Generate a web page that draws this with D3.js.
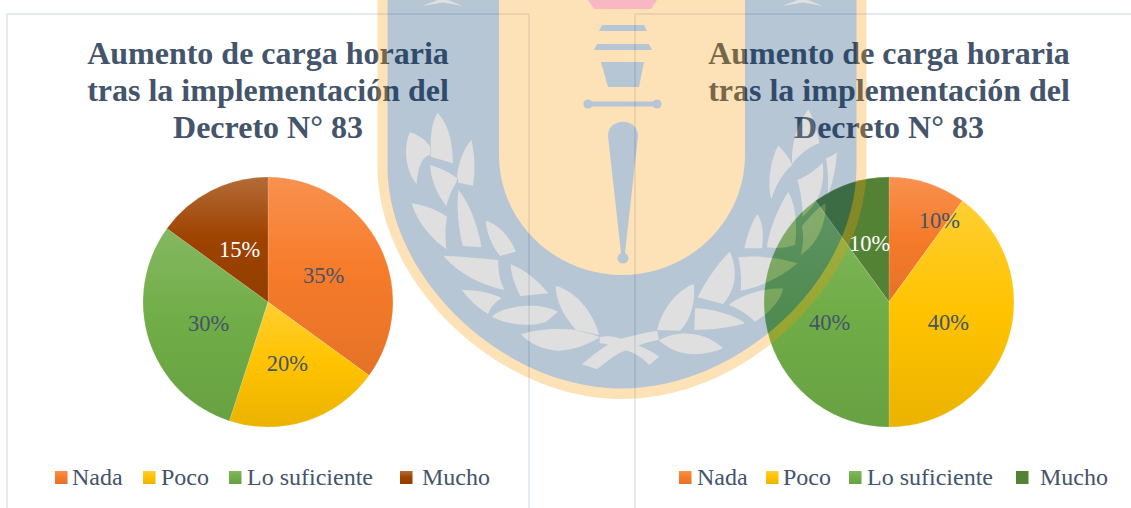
<!DOCTYPE html>
<html><head><meta charset="utf-8">
<script src="https://cdn.jsdelivr.net/npm/d3@7"></script>
<style>html,body{margin:0;padding:0;background:#fff}svg{display:block}text{font-family:"Liberation Serif","Times New Roman",serif}</style>
</head><body><svg id="c" width="1131" height="508"></svg>
<script>
const titleLines = ["Aumento de carga horaria","tras la implementación del","Decreto N° 83"];
const categories = ["Nada","Poco","Lo suficiente","Mucho"];
const valuesLeft = [35,20,30,15];
const valuesRight = [10,40,40,10];
const coloursLeft = ["#f67b2a","#ffc300","#70ad47","#9e4300"];
const coloursRight = ["#f67b2a","#ffc300","#70ad47","#548235"];
const shadeLeft = [[.17,.93],[.2,.92],[.14,.93],[.22,.92]];
const shadeRight = [[.17,.93],[.2,.92],[.14,.93],[0,1]];
const labelColours = ["#44546a","#44546a","#44546a","#ffffff"];
const nudgeLeft = [[0,2],[0,2],[0,2],[0,3]];
const nudgeRight = [[31,-22],[0,1],[0,1],[0,1]];

const svg = d3.select("#c");
const defs = svg.append("defs");
const g0 = svg.append("g");
[[7,14,522,510],[635,14,520,510]].forEach(r=>{
  g0.append("rect").attr("x",r[0]).attr("y",r[1]).attr("width",r[2]).attr("height",r[3])
    .attr("fill","none").attr("stroke","#e3e8ef").attr("stroke-width",1.8);
});

function gradient(id,c,s){
  const b=d3.rgb(c);
  const g=defs.append("linearGradient").attr("id",id).attr("x1",0).attr("y1",0).attr("x2",0).attr("y2",1);
  g.append("stop").attr("offset","0").attr("stop-color",d3.interpolateRgb(c,"#fff")(s[0]));
  g.append("stop").attr("offset","0.48").attr("stop-color",c);
  g.append("stop").attr("offset","1").attr("stop-color",d3.rgb(b.r*s[1],b.g*s[1],b.b*s[1]).formatHex());
}

function chart(key,cx,cy,r,values,colours,shades,nudges,legendX,textX){
  const g=svg.append("g");
  const t=g.append("text").attr("text-anchor","middle").attr("fill","#44546a")
    .attr("font-weight","bold").attr("font-size",32);
  titleLines.forEach((l,i)=>t.append("tspan").attr("x",cx).attr("y",64+i*37).text(l));
  const arc=d3.arc().innerRadius(0).outerRadius(r);
  const arcs=d3.pie().sort(null)(values);
  const p=g.append("g").attr("transform",`translate(${cx},${cy})`);
  arcs.forEach((d,i)=>{
    gradient(`${key}${i}`,colours[i],shades[i]);
    p.append("path").attr("d",arc(d)).attr("fill",`url(#${key}${i})`)
      .attr("stroke","#fff").attr("stroke-opacity",.25).attr("stroke-width",.6);
  });
  const la=d3.arc().innerRadius(r*0.5).outerRadius(r*0.5);
  arcs.forEach((d,i)=>{
    const c=la.centroid(d);
    p.append("text").attr("x",c[0]+nudges[i][0]).attr("y",c[1]+nudges[i][1]).attr("dy","0.33em").attr("text-anchor","middle")
      .attr("font-size",22.5).attr("fill",labelColours[i]).text(values[i]+"%");
  });
  legendX.forEach((x,i)=>{
    g.append("rect").attr("x",x).attr("y",471).attr("width",12.5).attr("height",13).attr("fill",`url(#${key}${i})`);
    g.append("text").attr("x",textX[i]).attr("y",485).attr("font-size",24).attr("fill","#44546a").text(categories[i]);
  });
}
chart("a",268,302,125,valuesLeft,coloursLeft,shadeLeft,nudgeLeft,[55,143,229,400],[72,161,247,422]);
chart("b",889,302,125,valuesRight,coloursRight,shadeRight,nudgeRight,[679,766,849,1016],[697,783,867,1040]);

// university crest watermark, laid over everything at 28%
const w=svg.append("g").attr("opacity",.28);
const mx=622;
const shield=(hw,top,bottom,k1,k2)=>{const h=bottom-top;return `M${mx-hw},-5V${top}C${mx-hw},${top+k1*h} ${mx-k2*hw},${bottom} ${mx},${bottom}C${mx+k2*hw},${bottom} ${mx+hw},${top+k1*h} ${mx+hw},${top}V-5Z`;};
w.append("path").attr("d",shield(244.5,167,399,.5,.51)).attr("fill","#f89b00");
w.append("path").attr("d",shield(234.5,167,388.5,.5,.51)).attr("fill","#00376c");
w.append("path").attr("d",shield(123,155,275,.55,.55)).attr("fill","#f89b00");
w.append("path").attr("d","M588,0H657L651,9H594Z").attr("fill","#e9002c");
const crestBlue=["M602,25H644L647,31H599Z","M597,44H649L652,50H594Z","M601,62H644L639,87H608Z",
 "M588,101.5H657V106.5H588Z",
 "M608,136C608,117 638,117 638,136L625,253A5.5,5.5 0 1 1 621,253Z"];
crestBlue.forEach(d=>w.append("path").attr("d",d).attr("fill","#00376c"));
[588,657].forEach(x=>w.append("circle").attr("cx",x).attr("cy",104).attr("r",4.6).attr("fill","#00376c"));
w.append("path").attr("d","M422,6L438,0H448L463,6L443,2.5Z M782,6L798,0H808L823,6L803,2.5Z").attr("fill","#909090");
const leaves=[
"M200,338C230,370 245,420 245,490L180,470C178,420 180,370 200,338Z",
"M118,397C145,405 165,420 178,440L178,465C150,470 142,510 138,552C110,520 95,450 118,397Z",
"M300,420C310,460 312,510 305,557L262,548L258,530C260,490 278,445 300,420Z",
"M178,495C210,505 240,520 258,535L255,548C240,570 232,595 226,618C200,585 180,540 178,495Z",
"M123,610C160,615 200,630 228,650C222,680 222,715 226,748C180,715 140,665 123,610Z",
"M262,570C295,610 320,680 330,742L275,738C262,690 255,620 262,570Z",
"M343,662C385,675 415,715 432,755L385,768C360,735 345,700 343,662Z",
"M217,767C270,770 330,775 380,780C378,810 385,845 398,870C330,855 260,820 217,767Z",
"M416,793C460,810 500,845 528,880L445,888C430,860 418,825 416,793Z",
"M272,870C320,870 365,880 390,895C370,905 355,925 350,942C320,925 290,895 272,870Z",
"M360,950C400,915 500,905 556,935C540,950 525,962 520,966C470,982 410,975 360,950Z",
"M550,857C610,875 660,935 678,1005L610,990C575,950 550,905 550,857Z",
"M447,1003C500,985 560,985 610,990C640,1000 670,1005 680,1012C650,1030 610,1050 560,1052C515,1052 470,1030 447,1003Z",
"M628,1093C660,1065 700,1030 748,1015C790,1003 830,995 850,992L855,1020C830,1022 800,1035 760,1050C730,1060 700,1085 672,1108Z",
"M680,1012C705,1005 730,1012 748,1018C790,1035 830,1050 856,1070L826,1095C800,1065 770,1055 748,1048C720,1040 700,1030 680,1030Z",
"M850,990C860,940 900,875 958,852C965,900 950,960 918,992Z",
"M855,1022C900,990 990,990 1045,1045C1000,1065 940,1070 900,1050C885,1045 870,1032 855,1022Z",
"M962,925C1010,925 1080,945 1110,970C1060,985 1000,990 960,990Z",
"M970,892C995,840 1030,790 1065,755C1085,800 1090,860 1045,912Z",
"M1090,772C1150,765 1220,775 1265,790C1220,830 1150,865 1097,872C1100,840 1098,805 1090,772Z",
"M1062,915C1100,885 1160,865 1222,865C1220,900 1175,945 1140,965C1120,945 1090,925 1062,915Z",
"M1108,745C1115,710 1130,665 1147,642C1165,670 1165,710 1160,745Z",
"M1175,742C1180,690 1210,620 1238,575C1262,620 1265,680 1258,735C1230,745 1200,745 1175,742Z",
"M1265,540C1290,530 1320,510 1340,488C1345,540 1340,600 1280,650C1282,620 1275,575 1265,540Z",
"M1278,680C1300,650 1330,620 1348,610C1352,660 1330,730 1275,765C1282,735 1285,705 1278,680Z",
"M1208,437C1225,450 1245,480 1250,495C1220,520 1200,560 1188,598C1175,550 1185,480 1208,437Z",
"M1298,328C1315,360 1328,410 1330,430C1300,440 1265,470 1250,492C1245,440 1265,370 1298,328Z",
"M1350,475C1365,470 1380,460 1382,457C1380,500 1370,550 1355,585C1358,550 1355,510 1350,475Z"
];
const lg=w.append("g").attr("transform","translate(370,0) scale(0.33784,0.33333)");
leaves.forEach(d=>lg.append("path").attr("d",d).attr("fill","#909090"));
</script></body></html>
